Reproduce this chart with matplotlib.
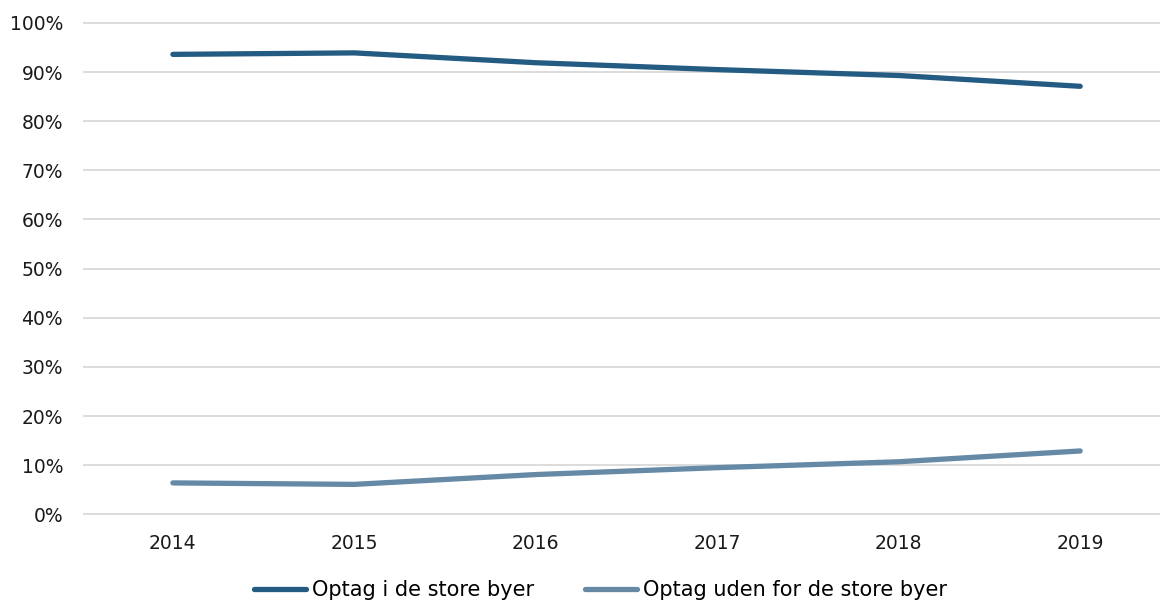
import matplotlib.pyplot as plt
from matplotlib.ticker import FuncFormatter

years = ["2014", "2015", "2016", "2017", "2018", "2019"]
i_byer = [93.6, 93.9, 91.9, 90.5, 89.3, 87.1]
uden_byer = [6.4, 6.1, 8.1, 9.5, 10.7, 12.9]

plt.rcParams['font.family'] = ['DejaVu Sans']

fig = plt.figure(figsize=(11.6, 6.03), dpi=100)
ax = fig.add_axes([0.0724, 0.147, 0.9276, 0.815])

x = range(len(years))
ax.plot(x, i_byer, color='#235b83', lw=3.8, solid_capstyle='round', label='Optag i de store byer')
ax.plot(x, uden_byer, color='#6689a5', lw=3.8, solid_capstyle='round', label='Optag uden for de store byer')

ax.set_ylim(0, 100)
ax.set_xlim(-0.49, 5.44)
ax.set_yticks(range(0, 101, 10))
ax.yaxis.set_major_formatter(FuncFormatter(lambda v, p: f"{int(v)}%"))
ax.set_xticks(list(x))
ax.set_xticklabels(years)
ax.grid(axis='y', color='#d9d9d9', lw=1.3)
for g in ax.get_ygridlines():
    g.set_clip_on(False)
ax.set_axisbelow(True)
for s in ax.spines.values():
    s.set_visible(False)
ax.tick_params(length=0, labelsize=13.5, colors='#1a1a1a', pad=14)
ax.tick_params(axis='y', pad=15)

leg = ax.legend(loc='upper center', bbox_to_anchor=(0.48, -0.095), ncol=2, frameon=False,
                fontsize=15, handlelength=2.5, handletextpad=0.3, columnspacing=2.4)
for h in leg.get_lines():
    h.set_solid_capstyle('round')

plt.savefig('out.png', dpi=100)
